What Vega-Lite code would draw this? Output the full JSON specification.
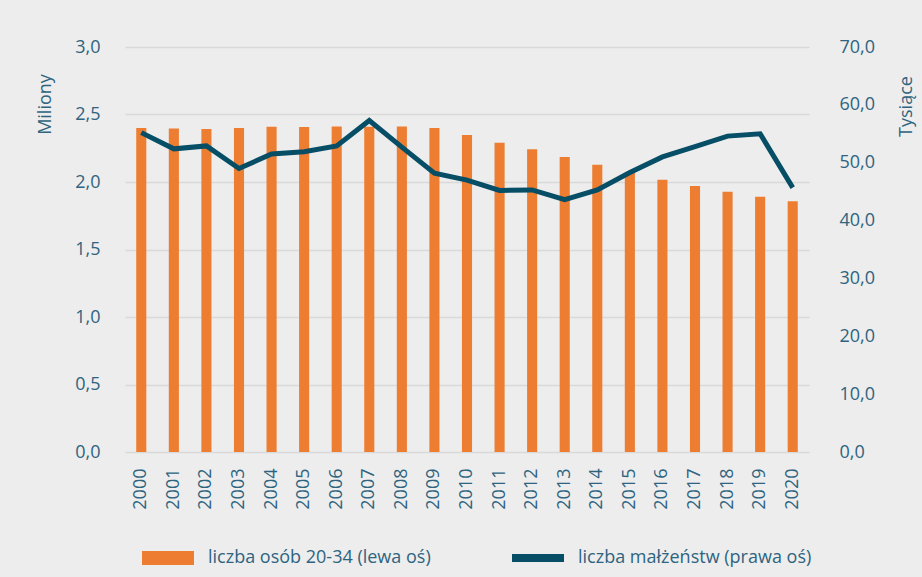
{
  "$schema": "https://vega.github.io/schema/vega-lite/v6.json",
  "width": 684,
  "height": 405,
  "autosize": "none",
  "padding": {"left": 125, "top": 47, "right": 113, "bottom": 125},
  "background": "#EDEDED",
  "config": {
    "view": {"stroke": null},
    "font": "Open Sans",
    "axis": {
      "labelFont": "Open Sans",
      "labelFontSize": 18,
      "labelColor": "#2E6480",
      "titleFont": "Open Sans",
      "titleFontSize": 18,
      "titleFontWeight": "normal",
      "titleColor": "#2E6480",
      "ticks": false,
      "tickSize": 0,
      "domain": false
    },
    "legend": {
      "labelFont": "Open Sans",
      "labelFontSize": 18,
      "labelColor": "#2E6480",
      "labelLimit": 400
    }
  },
  "data": {
    "values": [
      {"rok": "2000", "osoby": 2.400, "malzenstwa": 55.2},
      {"rok": "2001", "osoby": 2.397, "malzenstwa": 52.4},
      {"rok": "2002", "osoby": 2.393, "malzenstwa": 52.9},
      {"rok": "2003", "osoby": 2.400, "malzenstwa": 49.0},
      {"rok": "2004", "osoby": 2.410, "malzenstwa": 51.5},
      {"rok": "2005", "osoby": 2.407, "malzenstwa": 51.9},
      {"rok": "2006", "osoby": 2.412, "malzenstwa": 52.9},
      {"rok": "2007", "osoby": 2.410, "malzenstwa": 57.3},
      {"rok": "2008", "osoby": 2.412, "malzenstwa": 52.7},
      {"rok": "2009", "osoby": 2.400, "malzenstwa": 48.2},
      {"rok": "2010", "osoby": 2.348, "malzenstwa": 47.0},
      {"rok": "2011", "osoby": 2.291, "malzenstwa": 45.2},
      {"rok": "2012", "osoby": 2.242, "malzenstwa": 45.3},
      {"rok": "2013", "osoby": 2.185, "malzenstwa": 43.6},
      {"rok": "2014", "osoby": 2.128, "malzenstwa": 45.3},
      {"rok": "2015", "osoby": 2.070, "malzenstwa": 48.3},
      {"rok": "2016", "osoby": 2.017, "malzenstwa": 51.0},
      {"rok": "2017", "osoby": 1.970, "malzenstwa": 52.8},
      {"rok": "2018", "osoby": 1.928, "malzenstwa": 54.6},
      {"rok": "2019", "osoby": 1.891, "malzenstwa": 55.0},
      {"rok": "2020", "osoby": 1.857, "malzenstwa": 45.7}
    ]
  },
  "layer": [
    {
      "mark": {"type": "bar", "color": "#ED7D31"},
      "encoding": {
        "x": {
          "field": "rok",
          "type": "ordinal",
          "scale": {"paddingInner": 0.69, "paddingOuter": 0.345},
          "axis": {"title": null, "labelAngle": -90, "labelPadding": 16, "grid": false}
        },
        "y": {
          "field": "osoby",
          "type": "quantitative",
          "scale": {"domain": [0, 3], "nice": false},
          "axis": {
            "title": "Miliony",
            "values": [0, 0.5, 1, 1.5, 2, 2.5, 3],
            "labelExpr": "replace(format(datum.value, '.1f'), '.', ',')",
            "labelPadding": 25,
            "grid": true,
            "gridColor": "#D9D9D9",
            "gridWidth": 1.5,
            "titleX": -80,
            "titleY": 57,
            "titleAngle": 270,
            "titleAlign": "center",
            "titleBaseline": "middle"
          }
        },
        "color": {
          "datum": "liczba osób 20-34 (lewa oś)",
          "type": "nominal",
          "scale": {"range": ["#ED7D31"]},
          "legend": {
            "title": null,
            "orient": "none",
            "legendX": 17,
            "legendY": 485,
            "symbolType": "M-1,-0.27H1V0.27H-1Z",
            "symbolSize": 2704,
            "symbolStrokeWidth": 0,
            "symbolOpacity": 1,
            "labelOffset": 14
          }
        }
      }
    },
    {
      "mark": {"type": "line", "strokeWidth": 5, "color": "#064D66"},
      "encoding": {
        "x": {"field": "rok", "type": "ordinal"},
        "y": {
          "field": "malzenstwa",
          "type": "quantitative",
          "scale": {"domain": [0, 70], "nice": false},
          "axis": {
            "orient": "right",
            "title": "Tysiące",
            "values": [0, 10, 20, 30, 40, 50, 60, 70],
            "labelExpr": "replace(format(datum.value, '.1f'), '.', ',')",
            "labelPadding": 30,
            "grid": false,
            "titleX": 97,
            "titleY": 59,
            "titleAngle": 270,
            "titleAlign": "center",
            "titleBaseline": "middle"
          }
        },
        "color": {
          "datum": "liczba małżeństw (prawa oś)",
          "type": "nominal",
          "scale": {"range": ["#064D66"]},
          "legend": {
            "title": null,
            "orient": "none",
            "legendX": 383,
            "legendY": 481,
            "symbolType": "stroke",
            "symbolSize": 2704,
            "symbolStrokeWidth": 8,
            "labelOffset": 10
          }
        }
      }
    }
  ],
  "resolve": {"scale": {"y": "independent", "color": "independent"}}
}
